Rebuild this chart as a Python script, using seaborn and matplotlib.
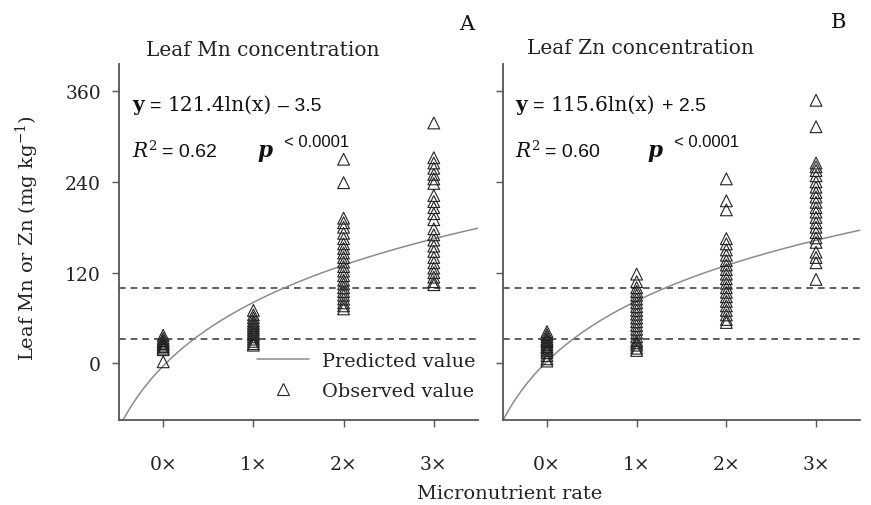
import numpy as np
import pandas as pd
import matplotlib
matplotlib.use("Agg")
import matplotlib.pyplot as plt
from matplotlib.lines import Line2D
import seaborn as sns

# ---------------- data ----------------
rates = ["0×", "1×", "2×", "3×"]
yticks = [0, 120, 240, 360]

mn_0x = [37, 33, 30, 28, 26, 24, 22, 20, 18, 2]
mn_1x = [70, 64, 60, 56, 53, 50, 47, 44, 41, 38, 35, 32, 29, 26, 24]
mn_2x = [270, 239, 192, 186, 180, 172, 165, 158, 152, 146, 140, 134, 128, 122,
         116, 110, 105, 100, 95, 90, 85, 80, 76, 72]
mn_3x = [318, 272, 265, 258, 250, 244, 238, 222, 214, 206, 198, 190, 178, 170,
         163, 155, 148, 140, 133, 126, 120, 114, 108, 104]

zn_0x = [42, 38, 35, 32, 30, 28, 25, 22, 20, 17, 14, 10, 6, 3]
zn_1x = [118, 108, 100, 95, 90, 85, 80, 75, 70, 65, 60, 55, 50, 45, 40, 35, 30,
         27, 24, 20, 17]
zn_2x = [244, 215, 203, 165, 158, 150, 143, 136, 130, 124, 118, 112, 106, 100,
         94, 88, 82, 76, 70, 64, 58, 54]
zn_3x = [348, 313, 265, 260, 255, 248, 240, 233, 226, 220, 213, 206, 200, 193,
         186, 180, 173, 166, 160, 147, 140, 133, 111]

mn_coef = (121.4, -3.5)
zn_coef = (115.6, 2.5)
thresholds = [100, 32]

# ---------------- style ----------------
sns.set_style("ticks")
plt.rcParams["font.family"] = ["DejaVu Serif"]
plt.rcParams["mathtext.fontset"] = "dejavuserif"

W, H = 871, 506
fig = plt.figure(figsize=(W / 100, H / 100), dpi=100)

def ax_rect(l, r, t, b):
    return [l / W, 1 - b / H, (r - l) / W, (b - t) / H]

axA = fig.add_axes(ax_rect(119, 478, 65, 421))
axB = fig.add_axes(ax_rect(503, 860, 65, 421))

def build_df(cols):
    xs, ys = [], []
    for i, c in enumerate(cols):
        xs += [i] * len(c)
        ys += list(c)
    return pd.DataFrame({"pos": xs, "val": ys})

spine_c = "#555555"
for ax, cols, coef in [(axA, [mn_0x, mn_1x, mn_2x, mn_3x], mn_coef),
                       (axB, [zn_0x, zn_1x, zn_2x, zn_3x], zn_coef)]:
    ax.set_xlim(-0.49, 3.49)
    ax.set_ylim(-75, 396)
    for th in thresholds:
        ax.axhline(th, color="#444444", lw=1.2, ls=(0, (4, 3)), zorder=1)
    t = np.linspace(-0.49, 3.49, 500)
    yv = coef[0] * np.log(t + 1) + coef[1]
    m = yv >= -76
    sns.lineplot(x=t[m], y=yv[m], color="#8c8c8c", lw=1.1, ax=ax,
                 sort=False, estimator=None, zorder=2)
    df = build_df(cols)
    sns.scatterplot(data=df, x="pos", y="val", marker="^", s=72,
                    facecolor="none", edgecolor="black", linewidth=0.8,
                    ax=ax, legend=False, zorder=3)
    ax.collections[-1].set_facecolor("none")
    ax.collections[-1].set_edgecolor("#222222")
    ax.set_xticks(range(len(rates)))
    ax.set_xticklabels(rates)
    ax.set_yticks(yticks)
    ax.set_xlabel("")
    ax.set_ylabel("")
    for s in ["top", "right"]:
        ax.spines[s].set_visible(False)
    for s in ["left", "bottom"]:
        ax.spines[s].set_color(spine_c)
        ax.spines[s].set_linewidth(1.3)
    ax.tick_params(axis="both", direction="out", length=5, width=1,
                   color=spine_c, labelsize=13.5, labelcolor="#222222")
    ax.tick_params(axis="x", pad=20)
    ax.tick_params(axis="y", pad=8)

axB.tick_params(labelleft=False)

# ---------------- texts ----------------
def ftext(x, y, s, **kw):
    return fig.text(x / W, 1 - y / H, s, **kw)

ftext(263, 50, "Leaf Mn concentration", ha="center", va="center", fontsize=14.5, color="#222222")
ftext(640, 48, "Leaf Zn concentration", ha="center", va="center", fontsize=14.5, color="#222222")
ftext(467, 25, "A", ha="center", va="center", fontsize=15, color="#111111")
ftext(838, 23, "B", ha="center", va="center", fontsize=15, color="#111111")
ftext(510, 494, "Micronutrient rate", ha="center", va="center", fontsize=14, color="#222222")
ftext(27, 238, "Leaf Mn or Zn (mg kg$^{-1}$)", ha="center", va="center",
      rotation=90, fontsize=14, color="#222222")

renderer = fig.canvas.get_renderer()

def seq(x, y, pieces):
    cur = x
    for s, props, dy, gap in pieces:
        tt = fig.text(cur / W, 1 - (y + dy) / H, s, ha="left", va="baseline",
                      color="#111111", **props)
        bb = tt.get_window_extent(renderer)
        cur += bb.width + gap

serif = dict(family="DejaVu Serif", fontsize=14.5)
sans = dict(family="Liberation Sans", fontsize=14)

def equation_block(x0, coef_txt, sign_txt, r2_txt, px):
    seq(x0, 111, [("y", dict(serif, weight="bold"), 0, 6),
                  ("=", sans, 0, 6),
                  (coef_txt, serif, 0, 7),
                  (sign_txt, sans, 0, 0)])
    seq(x0, 157, [("R", dict(serif, style="italic"), 0, 1),
                  ("2", dict(family="DejaVu Serif", fontsize=9.5), -7, 5),
                  ("= " + r2_txt, sans, 0, 0)])
    seq(px, 157, [("p", dict(family="DejaVu Serif", fontsize=15.5,
                              style="italic", weight="bold"), 0, 12),
                  ("< 0.0001", dict(family="Liberation Sans", fontsize=12), -10, 0)])

equation_block(132, "121.4ln(x)", "– 3.5", "0.62", 257)
equation_block(515, "115.6ln(x)", "+ 2.5", "0.60", 647)

# ---------------- legend ----------------
handles = [Line2D([0], [0], color="#8c8c8c", lw=1.1),
           Line2D([0], [0], marker="^", ls="none", markersize=8.5,
                  markerfacecolor="none", markeredgecolor="#222222",
                  markeredgewidth=0.8)]
leg = axA.legend(handles, ["Predicted value", "Observed value"],
                 loc="upper left", bbox_to_anchor=(257 / W, 1 - 353 / H),
                 bbox_transform=fig.transFigure, frameon=False,
                 fontsize=13.9, handlelength=2.7, handletextpad=0.65,
                 labelspacing=0.62, borderpad=0, borderaxespad=0)
for txt in leg.get_texts():
    txt.set_color("#222222")

fig.savefig("out.png", dpi=100)
